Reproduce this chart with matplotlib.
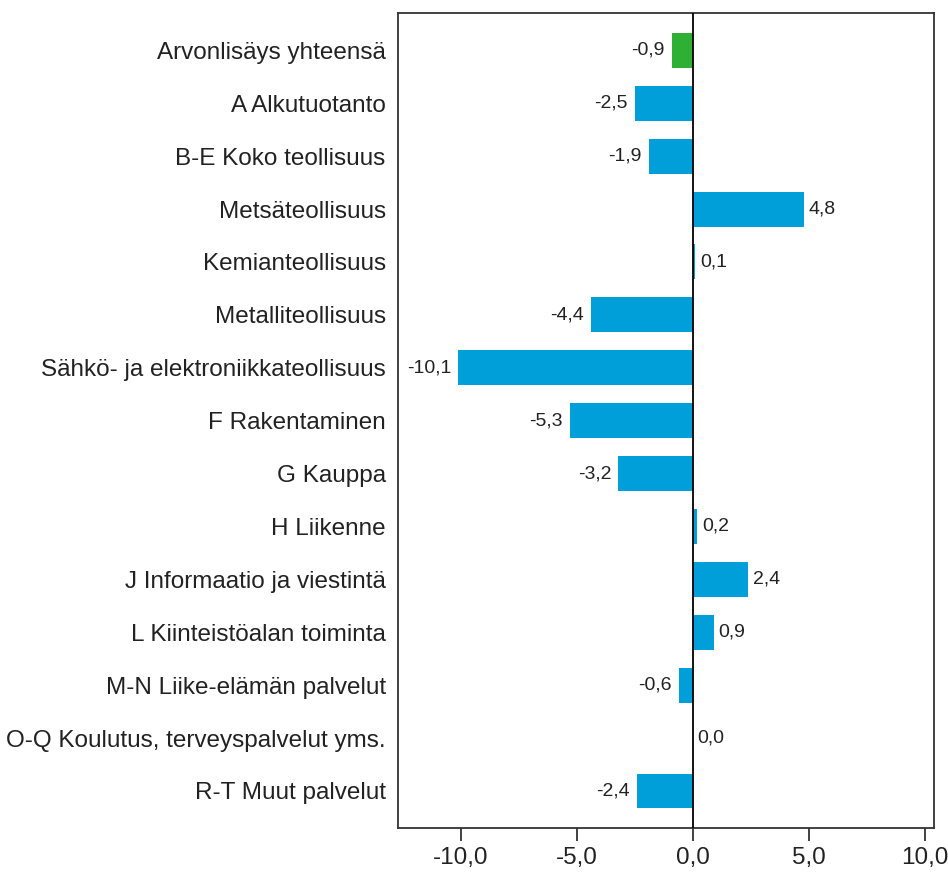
import matplotlib
matplotlib.use("Agg")
import matplotlib.pyplot as plt

categories = ["Arvonlisäys yhteensä", "A Alkutuotanto", "B-E Koko teollisuus",
              "Metsäteollisuus", "Kemianteollisuus", "Metalliteollisuus",
              "Sähkö- ja elektroniikkateollisuus", "F Rakentaminen", "G Kauppa",
              "H Liikenne", "J Informaatio ja viestintä", "L Kiinteistöalan toiminta",
              "M-N Liike-elämän palvelut", "O-Q Koulutus, terveyspalvelut yms.",
              "R-T Muut palvelut"]
values = [-0.9, -2.5, -1.9, 4.8, 0.1, -4.4, -10.1, -5.3, -3.2, 0.2, 2.4, 0.9, -0.6, 0.0, -2.4]
xticks = [-10, -5, 0, 5, 10]

plt.rcParams['font.family'] = ['Liberation Sans', 'DejaVu Sans']

fig = plt.figure(figsize=(9.48, 8.76), dpi=100)
ax = fig.add_axes([0.42, 0.0548, 0.565, 0.930])

colors = ['#2db034'] + ['#009fda'] * (len(values) - 1)
y = list(range(len(categories)))
ax.barh(y, values, height=0.66, color=colors, zorder=2)
ax.axvline(0, color='black', lw=1.3, zorder=3)

for yi, v in zip(y, values):
    lab = f"{v:.1f}".replace('.', ',')
    if v < 0:
        ax.annotate(lab, (v, yi), xytext=(-5, 0), textcoords='offset points',
                    ha='right', va='center', fontsize=14, color='#222222')
    else:
        ax.annotate(lab, (v, yi), xytext=(3.5, 0), textcoords='offset points',
                    ha='left', va='center', fontsize=14, color='#222222')

ax.set_xlim(-12.7, 10.4)
ax.set_ylim(14.7, -0.7)
ax.set_yticks(y)
ax.set_yticklabels(categories, fontsize=17.5, color='#222222')
ax.tick_params(axis='y', length=0, pad=9)
ax.set_xticks(xticks)
ax.set_xticklabels([f"{t:.1f}".replace('.', ',') for t in xticks], fontsize=17.5, color='#222222')
ax.tick_params(axis='x', direction='out', length=9, width=1.3, color='#333333', pad=5)
for s in ax.spines.values():
    s.set_color('#333333')
    s.set_linewidth(1.3)

fig.savefig("out.png", dpi=100)
